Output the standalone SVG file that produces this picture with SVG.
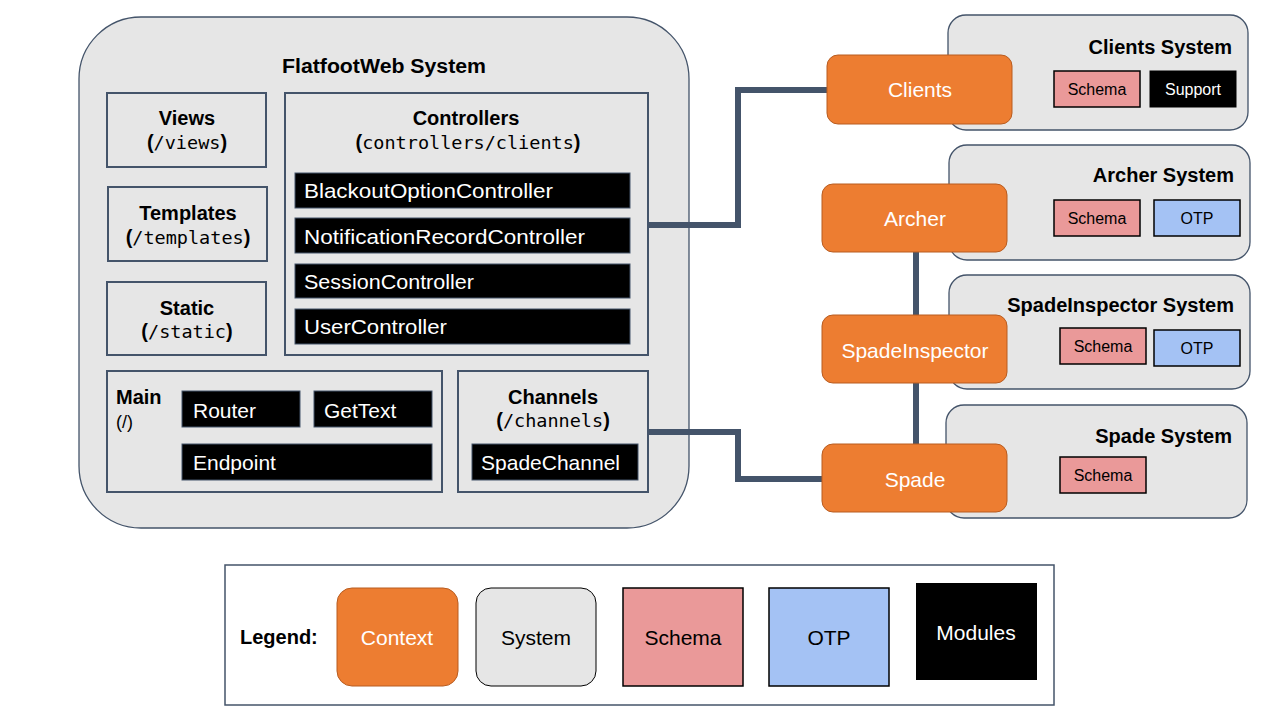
<svg xmlns="http://www.w3.org/2000/svg" width="1280" height="720" viewBox="0 0 1280 720">
<style>
  text { font-family: "Liberation Sans", Arial, sans-serif; }
  .sys { fill: #E6E6E6; stroke: #44546A; stroke-width: 1.3; }
  .box { fill: none; stroke: #44546A; stroke-width: 2; }
  .mod { fill: #000000; stroke: #44546A; stroke-width: 1; }
  .ctx { fill: #ED7D31; stroke: #B85C20; stroke-width: 1; }
  .sch { fill: #EA9999; stroke: #000000; stroke-width: 1.5; }
  .otp { fill: #A4C2F4; stroke: #000000; stroke-width: 1.5; }
  .title { font-size: 20px; font-weight: bold; fill: #000; }
  .mono { font-family: "DejaVu Sans Mono", "Liberation Mono", monospace; font-size: 18.5px; font-weight: normal; }
  .paren { font-size: 20px; font-weight: bold; fill: #000; }
  .modt { font-size: 21px; fill: #FFFFFF; }
  .ctxt { font-size: 21px; fill: #FFFFFF; text-anchor: middle; }
  .small { font-size: 16px; fill: #000; text-anchor: middle; }
  .leg { font-size: 21px; text-anchor: middle; }
  .conn { fill: none; stroke: #44546A; stroke-width: 6; stroke-linejoin: miter; }
</style>

<!-- FlatfootWeb System -->
<g id="flatfootweb-system">
  <rect class="sys" x="79" y="17" width="610" height="511" rx="62" ry="62"/>
  <text class="title" x="384" y="73" text-anchor="middle" textLength="204" lengthAdjust="spacingAndGlyphs">FlatfootWeb System</text>
</g>

<g id="views">
  <rect class="box" x="107" y="93" width="159" height="74"/>
  <text class="title" x="187" y="125" text-anchor="middle">Views</text>
  <text class="paren" x="187" y="149" text-anchor="middle">(<tspan class="mono">/views</tspan>)</text>
</g>

<g id="templates">
  <rect class="box" x="108" y="187" width="159" height="74"/>
  <text class="title" x="188" y="220" text-anchor="middle">Templates</text>
  <text class="paren" x="188" y="244" text-anchor="middle">(<tspan class="mono">/templates</tspan>)</text>
</g>

<g id="static">
  <rect class="box" x="107" y="282" width="159" height="73"/>
  <text class="title" x="187" y="315" text-anchor="middle">Static</text>
  <text class="paren" x="187" y="338" text-anchor="middle">(<tspan class="mono">/static</tspan>)</text>
</g>

<g id="controllers">
  <rect class="box" x="285" y="93" width="363" height="262"/>
  <text class="title" x="466" y="125" text-anchor="middle">Controllers</text>
  <text class="paren" x="468" y="149" text-anchor="middle">(<tspan class="mono">controllers/clients</tspan>)</text>
  <g id="blackout-option-controller">
    <rect class="mod" x="295" y="173" width="335" height="35"/>
    <text class="modt" x="304" y="198" textLength="249" lengthAdjust="spacingAndGlyphs">BlackoutOptionController</text>
  </g>
  <g id="notification-record-controller">
    <rect class="mod" x="295" y="218" width="335" height="35"/>
    <text class="modt" x="304" y="244" textLength="281" lengthAdjust="spacingAndGlyphs">NotificationRecordController</text>
  </g>
  <g id="session-controller">
    <rect class="mod" x="295" y="264" width="335" height="34"/>
    <text class="modt" x="304" y="289" textLength="170" lengthAdjust="spacingAndGlyphs">SessionController</text>
  </g>
  <g id="user-controller">
    <rect class="mod" x="295" y="309" width="335" height="35"/>
    <text class="modt" x="304" y="334" textLength="143" lengthAdjust="spacingAndGlyphs">UserController</text>
  </g>
</g>

<g id="main">
  <rect class="box" x="107" y="371" width="335" height="121"/>
  <text class="title" x="116" y="404">Main</text>
  <text x="116" y="428" font-size="18" fill="#000">(/)</text>
  <g id="router">
    <rect class="mod" x="182" y="391" width="118" height="36"/>
    <text class="modt" x="193" y="418">Router</text>
  </g>
  <g id="gettext">
    <rect class="mod" x="314" y="391" width="118" height="36"/>
    <text class="modt" x="324" y="418">GetText</text>
  </g>
  <g id="endpoint">
    <rect class="mod" x="182" y="444" width="250" height="36"/>
    <text class="modt" x="193" y="470">Endpoint</text>
  </g>
</g>

<g id="channels">
  <rect class="box" x="458" y="371" width="190" height="121"/>
  <text class="title" x="553" y="404" text-anchor="middle">Channels</text>
  <text class="paren" x="553" y="427" text-anchor="middle">(<tspan class="mono">/channels</tspan>)</text>
  <g id="spade-channel">
    <rect class="mod" x="472" y="444" width="166" height="36"/>
    <text class="modt" x="481" y="470" textLength="139" lengthAdjust="spacingAndGlyphs">SpadeChannel</text>
  </g>
</g>

<!-- Right-side systems -->
<g id="clients-system">
  <rect class="sys" x="948" y="15" width="300" height="115" rx="18" ry="18"/>
  <text class="title" x="1232" y="54" text-anchor="end">Clients System</text>
  <rect class="sch" x="1054" y="71" width="86" height="36"/>
  <text class="small" x="1097" y="95">Schema</text>
  <rect class="mod" x="1150" y="71" width="86" height="36" style="stroke:#000"/>
  <text class="small" x="1193" y="95" style="fill:#FFFFFF">Support</text>
</g>

<g id="archer-system">
  <rect class="sys" x="949" y="145" width="301" height="115" rx="18" ry="18"/>
  <text class="title" x="1234" y="182" text-anchor="end">Archer System</text>
  <rect class="sch" x="1054" y="200" width="86" height="36"/>
  <text class="small" x="1097" y="224">Schema</text>
  <rect class="otp" x="1154" y="200" width="86" height="36"/>
  <text class="small" x="1197" y="224">OTP</text>
</g>

<g id="spadeinspector-system">
  <rect class="sys" x="949" y="275" width="301" height="114" rx="18" ry="18"/>
  <text class="title" x="1234" y="312" text-anchor="end">SpadeInspector System</text>
  <rect class="sch" x="1060" y="328" width="86" height="36"/>
  <text class="small" x="1103" y="352">Schema</text>
  <rect class="otp" x="1154" y="330" width="86" height="36"/>
  <text class="small" x="1197" y="354">OTP</text>
</g>

<g id="spade-system">
  <rect class="sys" x="946" y="405" width="301" height="113" rx="18" ry="18"/>
  <text class="title" x="1232" y="443" text-anchor="end">Spade System</text>
  <rect class="sch" x="1060" y="457" width="86" height="36"/>
  <text class="small" x="1103" y="481">Schema</text>
</g>

<!-- Connectors -->
<g id="connectors">
  <polyline class="conn" points="649,225 738,225 738,90 828,90"/>
  <polyline class="conn" points="649,432 738,432 738,479 823,479"/>
  <line class="conn" x1="916" y1="252" x2="916" y2="444"/>
</g>

<!-- Context nodes -->
<g id="clients">
  <rect class="ctx" x="827" y="55" width="185" height="69" rx="11" ry="11"/>
  <text class="ctxt" x="920" y="97">Clients</text>
</g>
<g id="archer">
  <rect class="ctx" x="822" y="184" width="185" height="68" rx="11" ry="11"/>
  <text class="ctxt" x="915" y="226">Archer</text>
</g>
<g id="spadeinspector">
  <rect class="ctx" x="822" y="315" width="185" height="68" rx="11" ry="11"/>
  <text class="ctxt" x="915" y="358">SpadeInspector</text>
</g>
<g id="spade">
  <rect class="ctx" x="822" y="444" width="185" height="68" rx="11" ry="11"/>
  <text class="ctxt" x="915" y="487">Spade</text>
</g>

<!-- Legend -->
<g id="legend">
  <rect x="225" y="565" width="829" height="140" fill="#FFFFFF" stroke="#44546A" stroke-width="1.5"/>
  <text x="240" y="644" font-size="20" font-weight="bold" fill="#000">Legend:</text>
  <rect class="ctx" x="337" y="588" width="121" height="98" rx="15" ry="15"/>
  <text class="leg" x="397" y="645" fill="#FFFFFF">Context</text>
  <rect x="476" y="588" width="120" height="98" rx="15" ry="15" fill="#E6E6E6" stroke="#000" stroke-width="1"/>
  <text class="leg" x="536" y="645" fill="#000">System</text>
  <rect class="sch" x="623" y="588" width="120" height="98"/>
  <text class="leg" x="683" y="645" fill="#000">Schema</text>
  <rect class="otp" x="769" y="588" width="120" height="98"/>
  <text class="leg" x="829" y="645" fill="#000">OTP</text>
  <rect x="916" y="583" width="121" height="97" fill="#000"/>
  <text class="leg" x="976" y="640" fill="#FFFFFF">Modules</text>
</g>
</svg>
